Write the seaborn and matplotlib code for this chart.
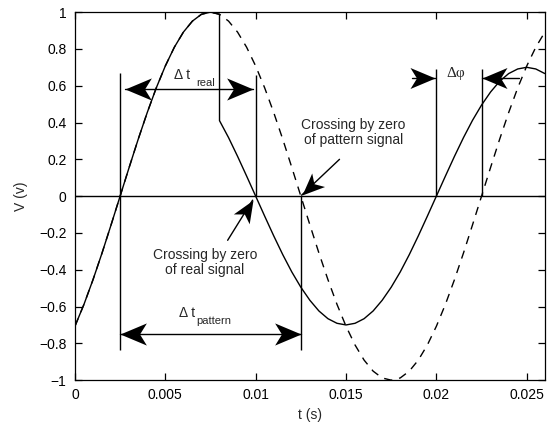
import matplotlib
matplotlib.use("Agg")
from matplotlib import pyplot as plt
from matplotlib.path import Path
from matplotlib.markers import MarkerStyle
from matplotlib.transforms import Affine2D
import seaborn as sns
import numpy as np

# time axis (s) and the two signals
t_pattern = [0.0000, 0.0005, 0.0010, 0.0015, 0.0020, 0.0025, 0.0030, 0.0035, 0.0040,
             0.0045, 0.0050, 0.0055, 0.0060, 0.0065, 0.0070, 0.0075, 0.0080, 0.0085,
             0.0090, 0.0095, 0.0100, 0.0105, 0.0110, 0.0115, 0.0120, 0.0125, 0.0130,
             0.0135, 0.0140, 0.0145, 0.0150, 0.0155, 0.0160, 0.0165, 0.0170, 0.0175,
             0.0180, 0.0185, 0.0190, 0.0195, 0.0200, 0.0205, 0.0210, 0.0215, 0.0220,
             0.0225, 0.0230, 0.0235, 0.0240, 0.0245, 0.0250, 0.0255, 0.0260]
v_pattern = [-0.707, -0.588, -0.454, -0.309, -0.156, 0.000, 0.156, 0.309, 0.454,
             0.588, 0.707, 0.809, 0.891, 0.951, 0.988, 1.000, 0.988, 0.951,
             0.891, 0.809, 0.707, 0.588, 0.454, 0.309, 0.156, 0.000, -0.156,
             -0.309, -0.454, -0.588, -0.707, -0.809, -0.891, -0.951, -0.988, -1.000,
             -0.988, -0.951, -0.891, -0.809, -0.707, -0.588, -0.454, -0.309, -0.156,
             0.000, 0.156, 0.309, 0.454, 0.588, 0.707, 0.809, 0.891]

t_real = [0.0000, 0.0005, 0.0010, 0.0015, 0.0020, 0.0025, 0.0030, 0.0035, 0.0040,
          0.0045, 0.0050, 0.0055, 0.0060, 0.0065, 0.0070, 0.0075, 0.0080, 0.0080,
          0.0085, 0.0090, 0.0095, 0.0100, 0.0105, 0.0110, 0.0115, 0.0120, 0.0125,
          0.0130, 0.0135, 0.0140, 0.0145, 0.0150, 0.0155, 0.0160, 0.0165, 0.0170,
          0.0175, 0.0180, 0.0185, 0.0190, 0.0195, 0.0200, 0.0205, 0.0210, 0.0215,
          0.0220, 0.0225, 0.0230, 0.0235, 0.0240, 0.0245, 0.0250, 0.0255, 0.0260]
v_real = [-0.707, -0.588, -0.454, -0.309, -0.156, 0.000, 0.156, 0.309, 0.454,
          0.588, 0.707, 0.809, 0.891, 0.951, 0.988, 1.000, 0.988, 0.410,
          0.318, 0.216, 0.109, 0.000, -0.109, -0.216, -0.318, -0.412, -0.495,
          -0.566, -0.624, -0.666, -0.691, -0.700, -0.691, -0.666, -0.624, -0.566,
          -0.495, -0.412, -0.318, -0.216, -0.109, 0.000, 0.109, 0.216, 0.318,
          0.412, 0.495, 0.566, 0.624, 0.666, 0.691, 0.700, 0.691, 0.666]

# zero crossings used for the markers
t_cross_real = [0.0025, 0.0100, 0.0200]
t_cross_pattern = [0.0025, 0.0125, 0.0225]

x_ticks = [0, 0.005, 0.01, 0.015, 0.02, 0.025]
x_ticklabels = ["0", "0.005", "0.01", "0.015", "0.02", "0.025"]
y_ticks = [1, 0.8, 0.6, 0.4, 0.2, 0, -0.2, -0.4, -0.6, -0.8, -1]
y_ticklabels = ["1", "0.8", "0.6", "0.4", "0.2", "0", "\u22120.2", "\u22120.4",
                "\u22120.6", "\u22120.8", "\u22121"]

sns.set_theme(style="ticks")
plt.rcParams["font.family"] = ["Liberation Sans", "DejaVu Sans"]
plt.rcParams["axes.linewidth"] = 0.9

fig = plt.figure(figsize=(5.47, 4.32), dpi=100)
ax = fig.add_axes([0.137, 0.120, 0.859, 0.852])
ax.set_xlim(0, 0.026)
ax.set_ylim(-1, 1)

sns.lineplot(x=t_pattern, y=v_pattern, ax=ax, color="black", linewidth=1.0,
             linestyle="--", estimator=None, sort=False)
sns.lineplot(x=t_real, y=v_real, ax=ax, color="black", linewidth=1.0,
             estimator=None, sort=False)
ax.lines[0].set_dashes([6, 5])

ax.axhline(0, color="black", linewidth=1.0)

# vertical markers
ax.vlines(t_cross_real[0], -0.835, 0.67, color="black", lw=1.0)
ax.vlines(t_cross_real[1], 0, 0.66, color="black", lw=1.0)
ax.vlines(t_cross_pattern[1], -0.835, 0, color="black", lw=1.0)
ax.vlines(t_cross_real[2], 0, 0.69, color="black", lw=1.0)
ax.vlines(t_cross_pattern[2], 0, 0.69, color="black", lw=1.0)

# barbed arrow head (matlab style), tip at the origin pointing to +x
head_path = Path([(0, 0), (-1, 0.42), (-0.74, 0), (-1, -0.42), (0, 0)],
                 [Path.MOVETO, Path.LINETO, Path.LINETO, Path.LINETO, Path.CLOSEPOLY])


def head(tip, tail, ms=38):
    p1 = ax.transData.transform(tail)
    p2 = ax.transData.transform(tip)
    ang = np.degrees(np.arctan2(p2[1] - p1[1], p2[0] - p1[0]))
    m = MarkerStyle(head_path, transform=Affine2D().rotate_deg(ang))
    ax.plot([tip[0]], [tip[1]], marker=m, ms=ms, color="black",
            markeredgewidth=0, linestyle="none")


def arrow(tip, tail, both=False, ms=38):
    ax.plot([tail[0], tip[0]], [tail[1], tip[1]], color="black", lw=1.0)
    head(tip, tail, ms)
    if both:
        head(tail, tip, ms)


arrow((0.00983, 0.58), (0.00276, 0.58), both=True)
arrow((0.0125, -0.75), (0.0025, -0.75), both=True)
arrow((0.01994, 0.64), (0.01867, 0.64), ms=36)
arrow((0.02254, 0.64), (0.02459, 0.64), ms=36)
arrow((0.00983, -0.022), (0.00845, -0.24), ms=32)
arrow((0.01254, 0.005), (0.01464, 0.20), ms=32)

ax.text(0.0055, 0.636, "\u0394 t", fontsize=10, ha="left", va="baseline")
ax.text(0.00674, 0.598, "real", fontsize=8, ha="left", va="baseline")
ax.text(0.00575, -0.658, "\u0394 t", fontsize=10, ha="left", va="baseline")
ax.text(0.00674, -0.696, "pattern", fontsize=8, ha="left", va="baseline")
ax.text(0.02055, 0.668, "\u0394\u03c6", fontsize=11, ha="left", va="center",
        family=["Liberation Serif", "DejaVu Serif"])

ax.text(0.00718, -0.36, "Crossing by zero\nof real signal", fontsize=10,
        ha="center", va="center", linespacing=1.1)
ax.text(0.01541, 0.348, "Crossing by zero\nof pattern signal", fontsize=10,
        ha="center", va="center", linespacing=1.1)

ax.set_xticks(x_ticks)
ax.set_xticklabels(x_ticklabels)
ax.set_yticks(y_ticks)
ax.set_yticklabels(y_ticklabels)
ax.tick_params(direction="in", top=True, right=True, length=5, width=0.9,
               labelsize=10, colors="black", pad=6)
for s in ax.spines.values():
    s.set_visible(True)
    s.set_color("black")

ax.set_xlabel("t (s)", fontsize=10, labelpad=4)
ax.set_ylabel("V (v)", fontsize=10, labelpad=8)

fig.savefig("out.png", dpi=100)
